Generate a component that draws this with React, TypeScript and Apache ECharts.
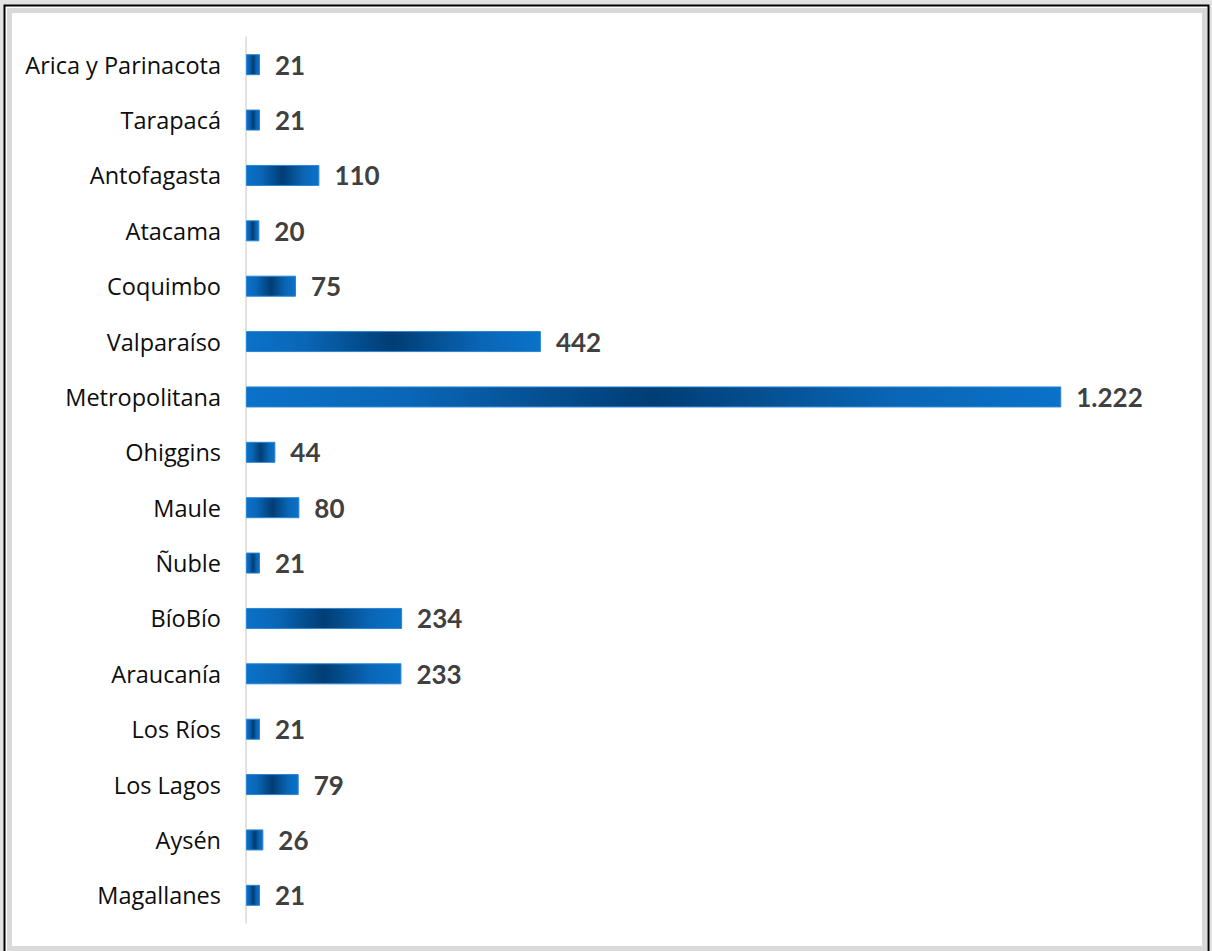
import React, { useEffect, useRef } from "react";
import * as echarts from "echarts";

const regions: string[] = [
  "Arica y Parinacota",
  "Tarapacá",
  "Antofagasta",
  "Atacama",
  "Coquimbo",
  "Valparaíso",
  "Metropolitana",
  "Ohiggins",
  "Maule",
  "Ñuble",
  "BíoBío",
  "Araucanía",
  "Los Ríos",
  "Los Lagos",
  "Aysén",
  "Magallanes",
];

const values: number[] = [21, 21, 110, 20, 75, 442, 1222, 44, 80, 21, 234, 233, 21, 79, 26, 21];

const xMin = 0;
const xMax = 1400;

const fmt = (v: number): string => {
  const s = Math.round(v).toString();
  return s.replace(/\B(?=(\d{3})+(?!\d))/g, ".");
};

export default function App() {
  const ref = useRef<HTMLDivElement>(null);

  useEffect(() => {
    document.body.style.margin = "0";
    if (!ref.current) return;
    const chart = echarts.init(ref.current, undefined, { renderer: "svg" });
    const barGradient = new echarts.graphic.LinearGradient(0, 0, 1, 0, [
      { offset: 0, color: "#0a72c9" },
      { offset: 0.2, color: "#0a66b6" },
      { offset: 0.5, color: "#003d74" },
      { offset: 0.8, color: "#0a66b6" },
      { offset: 1, color: "#0a72c9" },
    ]);
    chart.setOption({
      animation: false,
      backgroundColor: "#ffffff",
      graphic: [
        { type: "rect", z: -10, silent: true, shape: { x: 0, y: 0, width: 1212, height: 951 }, style: { fill: "#e3e3e3" } },
        { type: "rect", z: -9, silent: true, shape: { x: 4.5, y: 5.5, width: 1204, height: 960 }, style: { fill: "#ffffff", stroke: "#000000", lineWidth: 2 } },
        { type: "rect", z: -8, silent: true, shape: { x: 9.5, y: 10.5, width: 1195, height: 938 }, style: { fill: "#ffffff", stroke: "#d9d9d9", lineWidth: 5 } },
      ],
      grid: { left: 246, right: 32, top: 37, bottom: 28, containLabel: false },
      xAxis: {
        type: "value",
        min: xMin,
        max: xMax,
        show: false,
      },
      yAxis: {
        type: "category",
        data: regions,
        inverse: true,
        axisLine: { show: true, lineStyle: { color: "#d9d9d9", width: 1.5 } },
        axisTick: { show: false },
        axisLabel: {
          margin: 25,
          color: "#0d0d0d",
          fontSize: 23.5,
          fontFamily: "Open Sans",
        },
      },
      series: [
        {
          type: "bar",
          data: values,
          barWidth: 21,
          itemStyle: { color: barGradient, borderColor: "#2a84d4", borderWidth: 1 },
          label: {
            show: true,
            position: "right",
            distance: 15,
            color: "#404040",
            fontWeight: "bold",
            fontSize: 26,
            fontFamily: "Lato",
            formatter: (p: any) => fmt(p.value),
          },
        },
      ],
    });
    return () => chart.dispose();
  }, []);

  return <div ref={ref} style={{ width: 1212, height: 951 }} />;
}
